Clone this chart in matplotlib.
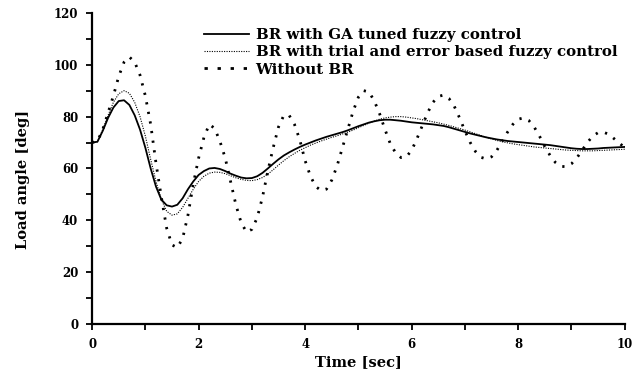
import numpy as np
import matplotlib
matplotlib.use("Agg")
import matplotlib.pyplot as plt
from matplotlib.ticker import MultipleLocator

# time samples every 0.1 s
time_s = np.linspace(0, 10, 101)

# load angle [deg]
without_br = [
    70, 70.5, 75, 81.5, 88, 95.5, 101, 103, 101, 96,
    88, 77, 62, 49, 37, 30.5, 29.5, 33, 42, 54,
    64, 72, 77, 75.5, 70.5, 64, 55, 46, 39, 35.5,
    36.5, 41, 49, 59, 68, 76, 80.5, 80.5, 77, 71,
    63, 57, 53, 51.5, 52, 55.5, 61, 68, 75, 82,
    87.5, 90, 89.5, 86, 81, 75, 69.5, 66, 64.2, 64.5,
    67, 71.5, 76.5, 81.5, 85.5, 87.8, 88.3, 87, 84, 79.5,
    74.5, 70, 66.5, 64.3, 63.7, 64.5, 67, 70.5, 74, 77,
    79, 79.5, 78.5, 76, 72.5, 68.5, 65, 62.3, 60.8, 60.7,
    61.8, 64, 67, 70, 72.5, 73.8, 74, 73.2, 71.5, 69.8,
    68,
]

ga_tuned = [
    70, 70.3, 74.5, 79.5, 83.5, 86, 86.3, 84.5, 80.5, 75,
    68, 60, 53, 48, 45.8, 45.3, 46, 48.5, 52, 55,
    57.5, 59, 60, 60.2, 59.8, 59, 58, 57.2, 56.5, 56.2,
    56.3, 57, 58.3, 60, 61.8, 63.5, 65, 66.2, 67.3, 68.3,
    69.2, 70, 70.8, 71.5, 72.2, 72.8, 73.4, 74, 74.7, 75.5,
    76.3, 77, 77.7, 78.2, 78.6, 78.8, 78.8, 78.6, 78.4, 78.1,
    77.8, 77.6, 77.4, 77.2, 77, 76.7, 76.4, 75.9, 75.3, 74.7,
    74.1, 73.5, 73, 72.5, 72, 71.6, 71.2, 70.9, 70.6, 70.4,
    70.2, 70, 69.8, 69.6, 69.4, 69.2, 69, 68.7, 68.4, 68.1,
    67.8, 67.6, 67.5, 67.5, 67.6, 67.7, 67.9, 68, 68.1, 68.2,
    68.3,
]

trial_error = [
    70, 70.3, 75, 80.5, 85.5, 88.8, 90, 89, 85.5, 80,
    72.5, 63.5, 55, 48, 43.5, 42, 42.5, 45, 48.5, 52,
    55, 57, 58.2, 58.6, 58.5, 58, 57.2, 56.4, 55.8, 55.4,
    55.3, 55.7, 56.5, 57.8, 59.5, 61.3, 63, 64.5, 65.8, 67,
    68, 69, 69.8, 70.6, 71.3, 72, 72.6, 73.3, 74, 74.8,
    75.7, 76.6, 77.5, 78.3, 79, 79.5, 79.8, 80, 80, 79.8,
    79.5, 79.2, 78.8, 78.4, 78, 77.6, 77.1, 76.6, 76, 75.4,
    74.8, 74.1, 73.4, 72.7, 72, 71.4, 70.8, 70.3, 69.9, 69.5,
    69.2, 68.9, 68.6, 68.3, 68.1, 67.9, 67.7, 67.5, 67.3, 67.1,
    67, 66.9, 66.8, 66.8, 66.8, 66.9, 67, 67.1, 67.2, 67.3,
    67.4,
]

labels = [
    "BR with GA tuned fuzzy control",
    "BR with trial and error based fuzzy control",
    "Without BR",
]

plt.rcParams["font.family"] = "DejaVu Serif"
plt.rcParams["font.weight"] = "bold"

fig = plt.figure(figsize=(6.44, 3.79), dpi=100)
ax = fig.add_axes([0.143, 0.145, 0.827, 0.821])

ax.plot(time_s, ga_tuned, color="black", lw=1.3, label=labels[0])
ax.plot(time_s, trial_error, color="black", lw=0.8,
        linestyle=(0, (1, 1.2)), label=labels[1])
ax.plot(time_s, without_br, color="black", lw=2.0,
        linestyle=(0, (0.8, 2.7)), label=labels[2])

ax.set_xlim(0, 10)
ax.set_ylim(0, 120)
ax.xaxis.set_major_locator(MultipleLocator(2))
ax.xaxis.set_minor_locator(MultipleLocator(1))
ax.yaxis.set_major_locator(MultipleLocator(20))
ax.yaxis.set_minor_locator(MultipleLocator(10))
ax.tick_params(which="both", direction="out", length=4, width=1.3,
               labelsize=8.5, pad=6)

for side in ["top", "right"]:
    ax.spines[side].set_visible(False)
for side in ["left", "bottom"]:
    ax.spines[side].set_linewidth(1.6)

ax.set_xlabel("Time [sec]", fontsize=10.5, fontweight="bold", labelpad=3)
ax.set_ylabel("Load angle [deg]", fontsize=10.5, fontweight="bold")
ax.yaxis.set_label_coords(-0.116, 0.465)

leg = ax.legend(loc="upper left", bbox_to_anchor=(0.19, 0.985),
                frameon=False, fontsize=10.8, handlelength=3.0,
                handletextpad=0.45, labelspacing=0.22, borderpad=0.2)
# legend shows the last series as short dashes
leg.get_lines()[2].set_linestyle((0, (1.2, 3.5)))

fig.savefig("out.png", dpi=100)
